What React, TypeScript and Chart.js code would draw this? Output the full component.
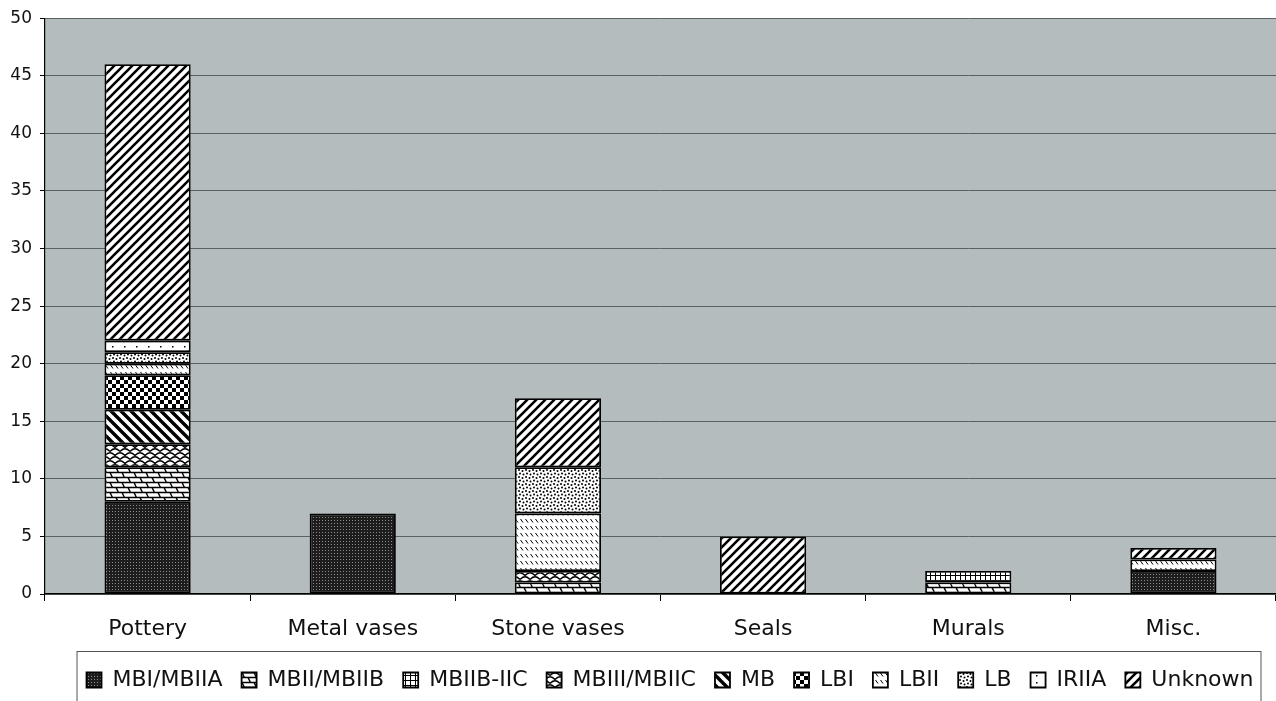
import { useEffect, useRef } from "react";
import { Chart, registerables } from "chart.js";

Chart.register(...registerables);

// Object categories along the x axis
const categories = ["Pottery", "Metal vases", "Stone vases", "Seals", "Murals", "Misc."];

// Chronological periods, stacked bottom to top in this order
const periods = [
  "MBI/MBIIA",
  "MBII/MBIIB",
  "MBIIB-IIC",
  "MBIII/MBIIC",
  "MB",
  "LBI",
  "LBII",
  "LB",
  "IRIIA",
  "Unknown",
];

// Number of objects per period and category (null = none)
const mbiMbiia = [8, 7, null, null, null, 2];
const mbiiMbiib = [3, null, 1, null, 1, null];
const mbiibIic = [null, null, null, null, 1, null];
const mbiiiMbiic = [2, null, 1, null, null, null];
const mb = [3, null, null, null, null, null];
const lbi = [3, null, null, null, null, null];
const lbii = [1, null, 5, null, null, 1];
const lb = [1, null, 4, null, null, null];
const iriia = [1, null, null, null, null, null];
const unknown = [24, null, 6, 5, null, 1];

const yMax = 50;
const yStep = 5;

type Painter = (g: CanvasRenderingContext2D, w: number, h: number) => void;

function makePattern(w: number, h: number, paint: Painter): CanvasPattern {
  const c = document.createElement("canvas");
  c.width = w;
  c.height = h;
  const g = c.getContext("2d")!;
  g.fillStyle = "#ffffff";
  g.fillRect(0, 0, w, h);
  g.strokeStyle = "#000";
  g.fillStyle = "#000";
  paint(g, w, h);
  return g.createPattern(c, "repeat")!;
}

function buildFills(): CanvasPattern[] {
  // dark fill with fine light dots
  const dark = makePattern(3, 3, (g) => {
    g.fillStyle = "#1d1d1d";
    g.fillRect(0, 0, 3, 3);
    g.fillStyle = "#8c8c8c";
    g.fillRect(1, 1, 1, 1);
  });
  // slanted brick weave
  const brick = makePattern(12, 10, (g) => {
    g.lineWidth = 1.4;
    g.beginPath();
    g.moveTo(0, 2.5);
    g.lineTo(12, 2.5);
    g.moveTo(0, 7.5);
    g.lineTo(12, 7.5);
    g.moveTo(2, 2.5);
    g.lineTo(4.5, 7.5);
    g.moveTo(8, 7.5);
    g.lineTo(10.5, 12.5);
    g.moveTo(8, -2.5);
    g.lineTo(10.5, 2.5);
    g.stroke();
  });
  // small square grid
  const grid = makePattern(5, 5, (g) => {
    g.fillRect(0, 0, 5, 1);
    g.fillRect(0, 0, 1, 5);
  });
  // wavy arcs
  const waves = makePattern(10, 8, (g) => {
    g.lineWidth = 1.3;
    g.beginPath();
    g.moveTo(0, 3.5);
    g.quadraticCurveTo(5, -2, 10, 3.5);
    g.moveTo(-5, 7.5);
    g.quadraticCurveTo(0, 2, 5, 7.5);
    g.quadraticCurveTo(10, 2, 15, 7.5);
    g.stroke();
  });
  // thick backward diagonal stripes
  const back = makePattern(10, 10, (g) => {
    g.lineWidth = 3.4;
    g.beginPath();
    for (const c of [-10, 0, 10]) {
      g.moveTo(c - 2, -2);
      g.lineTo(c + 12, 12);
    }
    g.stroke();
  });
  // checkerboard
  const checker = makePattern(8, 8, (g) => {
    g.fillRect(0, 0, 4, 4);
    g.fillRect(4, 4, 4, 4);
  });
  // short diagonal dashes
  const dashes = makePattern(5, 7, (g) => {
    g.lineWidth = 1;
    g.beginPath();
    g.moveTo(0.5, 1);
    g.lineTo(3, 4.5);
    g.stroke();
  });
  // dense dots
  const dots = makePattern(7, 7, (g) => {
    for (const [x, y] of [
      [1, 1],
      [4.5, 2],
      [2, 4.5],
      [5.5, 5.5],
    ]) {
      g.beginPath();
      g.arc(x, y, 1, 0, Math.PI * 2);
      g.fill();
    }
  });
  // sparse dots
  const sparse = makePattern(12, 7, (g) => {
    g.fillRect(4, 3, 1.5, 1.5);
  });
  // forward diagonal stripes
  const fwd = makePattern(9, 9, (g) => {
    g.lineWidth = 2.6;
    g.beginPath();
    for (const c of [0, 9, 18]) {
      g.moveTo(c + 2, -2);
      g.lineTo(c - 11, 11);
    }
    g.stroke();
  });
  return [dark, brick, grid, waves, back, checker, dashes, dots, sparse, fwd];
}

const plotBackground = {
  id: "plotBackground",
  beforeDraw(chart: any) {
    const { ctx, chartArea } = chart;
    ctx.save();
    ctx.fillStyle = "#b5bcbe";
    ctx.fillRect(chartArea.left, chartArea.top, chartArea.right - chartArea.left, chartArea.bottom - chartArea.top);
    ctx.restore();
  },
};

const legendShift = {
  id: "legendShift",
  afterLayout(chart: any) {
    const lg = chart.legend;
    if (lg) {
      lg.left += 32;
      lg.right += 32;
    }
  },
};

const legendFrame = {
  id: "legendFrame",
  afterDraw(chart: any) {
    const lg = chart.legend;
    const boxes = lg && lg.legendHitBoxes;
    if (!boxes || !boxes.length) return;
    const first = boxes[0];
    const last = boxes[boxes.length - 1];
    const left = first.left - 9.5;
    const right = last.left + last.width + 7.5;
    const top = lg.top + 1.5;
    const { ctx } = chart;
    ctx.save();
    ctx.strokeStyle = "#555";
    ctx.lineWidth = 1;
    ctx.strokeRect(left, top, right - left, chart.height + 10 - top);
    ctx.restore();
  },
};

export default function App() {
  const ref = useRef<HTMLCanvasElement>(null);

  useEffect(() => {
    const canvas = ref.current!;
    Chart.defaults.font.family = "'DejaVu Sans', sans-serif";
    const fills = buildFills();
    const series = [mbiMbiia, mbiiMbiib, mbiibIic, mbiiiMbiic, mb, lbi, lbii, lb, iriia, unknown];

    const chart = new Chart(canvas, {
      type: "bar",
      data: {
        labels: categories,
        datasets: periods.map((p, i) => ({
          label: p,
          data: series[i],
          backgroundColor: fills[i],
          borderColor: "#000",
          borderWidth: 1.8,
          borderSkipped: false,
          barPercentage: 0.42,
          categoryPercentage: 1,
        })),
      },
      options: {
        responsive: false,
        animation: false,
        devicePixelRatio: 1,
        layout: { padding: { top: 17, left: 0, right: 0, bottom: 0 } },
        scales: {
          x: {
            stacked: true,
            grid: {
              display: true,
              drawOnChartArea: false,
              drawTicks: true,
              tickLength: 7,
              tickColor: "#000",
            },
            border: { display: true, color: "#000", width: 1.2 },
            ticks: { color: "#111", font: { size: 22 }, padding: 15, maxRotation: 0 },
            afterFit: (s: any) => {
              s.height = 56;
            },
          },
          y: {
            stacked: true,
            min: 0,
            max: yMax,
            ticks: { stepSize: yStep, color: "#111", font: { size: 17 }, padding: 8 },
            grid: { color: "#5a6163", tickColor: "#000", tickLength: 5, lineWidth: 1 },
            border: { display: true, color: "#000", width: 1.2 },
            afterFit: (s: any) => {
              s.width = 45;
            },
          },
        },
        plugins: {
          legend: {
            position: "bottom",
            labels: {
              boxWidth: 15,
              boxHeight: 15,
              padding: 19,
              color: "#111",
              font: { size: 22 },
            },
          },
          tooltip: { enabled: false },
        },
      },
      plugins: [plotBackground, legendShift, legendFrame],
    } as any);

    return () => chart.destroy();
  }, []);

  return (
    <div style={{ position: "fixed", left: 0, top: 0, width: 1276, height: 701, background: "#fff" }}>
      <canvas ref={ref} width={1276} height={701} style={{ display: "block" }} />
    </div>
  );
}
